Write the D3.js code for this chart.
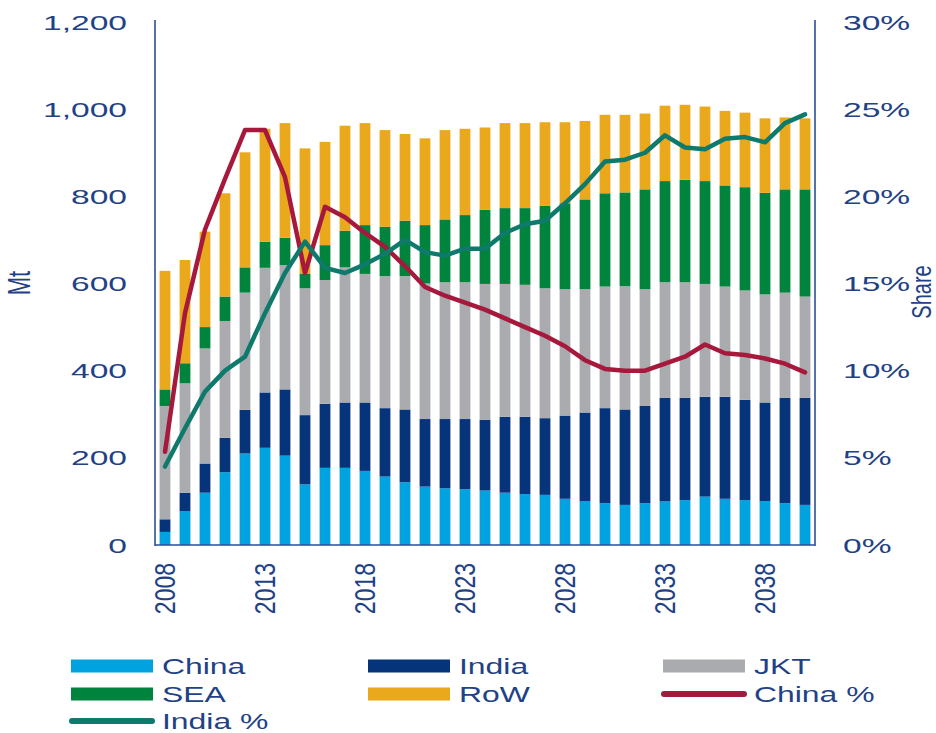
<!DOCTYPE html>
<html><head><meta charset="utf-8">
<script src="https://cdn.jsdelivr.net/npm/d3@7"></script>
<style>body{margin:0;background:#fff}svg{display:block}</style>
</head><body>
<svg id="c" width="936" height="733"></svg>
<script>
const years = [2008,2009,2010,2011,2012,2013,2014,2015,2016,2017,2018,2019,2020,2021,2022,2023,2024,2025,2026,2027,2028,2029,2030,2031,2032,2033,2034,2035,2036,2037,2038,2039,2040];
const china = [30,78,120,167,210,223,205,139,177,177,170,157,144,134,130,128,125,120,117,115,106,101,96,92,96,100,103,111,106,103,101,96,92];
const india = [29,42,67,79,100,127,152,159,147,150,157,157,167,155,159,161,162,174,177,176,191,203,218,219,223,238,235,229,234,230,226,242,246];
const jkt = [260,251,264,268,269,286,285,291,284,310,295,303,306,311,314,314,312,305,303,298,290,283,279,283,268,265,265,259,253,251,248,241,232];
const sea = [38,46,49,56,58,60,63,34,80,84,112,113,127,134,144,154,170,174,176,189,197,206,214,215,229,232,235,236,232,237,233,237,246];
const row = [272,237,219,237,264,259,263,287,237,241,234,222,199,199,205,198,189,195,195,192,186,180,180,178,174,173,172,171,171,171,171,165,163];
const chinaPct = [5.35,13.3,18.1,21.0,23.8,23.8,21.1,15.6,19.4,18.8,17.9,17.1,16.0,14.8,14.3,13.9,13.5,13.0,12.5,12.0,11.4,10.6,10.1,10.0,10.0,10.4,10.8,11.5,11.0,10.9,10.7,10.4,9.9];
const indiaPct = [4.5,6.7,8.8,10.0,10.8,13.3,15.6,17.4,15.9,15.6,16.1,16.7,17.5,16.8,16.6,17.0,17.0,17.9,18.4,18.6,19.6,20.7,22.0,22.1,22.5,23.5,22.8,22.7,23.3,23.4,23.1,24.2,24.7];
const xTickYears = [2008,2013,2018,2023,2028,2033,2038];
const yTicks = [0,200,400,600,800,1000,1200];
const pctTicks = [0,5,10,15,20,25,30];
const seriesKeys = ["China","India","JKT","SEA","RoW"];
const seriesColors = ["#00a3e0","#06347a","#a9abae","#00843d","#eaa81c"];
const lineKeys = ["China %","India %"];
const lineColors = ["#a6193c","#0e7a6c"];

const textColor = "#1f4286";
const axisColor = "#2b4f96";
const font = "'Liberation Sans', Arial, sans-serif";

const svg = d3.select("#c");
const L = 155, R = 815, T = 22, B = 545;

const x = d3.scaleBand().domain(years).range([L, R]).paddingInner(0.46).paddingOuter(0.23);
const y = d3.scaleLinear().domain([0,1200]).range([B, T]);
const y2 = d3.scaleLinear().domain([0,30]).range([B, T]);

const table = years.map((yr,i)=>({year:yr, China:china[i], India:india[i], JKT:jkt[i], SEA:sea[i], RoW:row[i]}));
const stack = d3.stack().keys(seriesKeys)(table);

svg.append("g").selectAll("g").data(stack).join("g")
  .attr("fill",(d,i)=>seriesColors[i])
  .selectAll("rect").data(d=>d).join("rect")
  .attr("x", d=>x(d.data.year))
  .attr("width", x.bandwidth())
  .attr("y", d=>y(d[1]))
  .attr("height", d=>y(d[0])-y(d[1]));

const cx = d => x(d) + x.bandwidth()/2;
const lineGen = arr => d3.line().x((d,i)=>cx(years[i])).y(d=>y2(d))(arr);
[chinaPct, indiaPct].forEach((arr,k)=>{
  svg.append("path").attr("d", lineGen(arr)).attr("fill","none")
    .attr("stroke", lineColors[k]).attr("stroke-width",4.5)
    .attr("stroke-linejoin","round").attr("stroke-linecap","round");
});

// axes
const sx = 1.6;
const gL = svg.append("g").attr("transform",`translate(${L},0)`)
  .call(d3.axisLeft(y).tickValues(yTicks).tickSize(0).tickFormat(d3.format(",")));
gL.select(".domain").attr("stroke",axisColor).attr("stroke-width",1.6).attr("d",`M0,${T-2}V${B+1}`);
gL.selectAll("text").attr("x",null).attr("dy",null)
  .attr("font-family",font).attr("font-size",21).attr("fill",textColor)
  .attr("text-anchor","end").attr("dominant-baseline","central")
  .attr("transform",`translate(-28,0) scale(${sx},1)`);

const gR = svg.append("g").attr("transform",`translate(${R},0)`)
  .call(d3.axisRight(y2).tickValues(pctTicks).tickSize(0).tickFormat(d=>d+"%"));
gR.select(".domain").attr("stroke",axisColor).attr("stroke-width",1.6).attr("d",`M0,${T-2}V${B+1}`);
gR.selectAll("text").attr("x",null).attr("dy",null)
  .attr("font-family",font).attr("font-size",21).attr("fill",textColor)
  .attr("text-anchor","start").attr("dominant-baseline","central")
  .attr("transform",`translate(28,0) scale(${sx},1)`);

const gB = svg.append("g").attr("transform",`translate(0,${B})`)
  .call(d3.axisBottom(x).tickValues(xTickYears).tickSize(0));
gB.select(".domain").attr("stroke",axisColor).attr("stroke-width",1.6).attr("d",`M${L},0H${R}`);
gB.selectAll(".tick text").attr("y",null).attr("dy",null)
  .attr("font-family",font).attr("font-size",23).attr("fill",textColor)
  .attr("text-anchor","end").attr("dominant-baseline","central")
  .attr("transform",`translate(0,18) scale(1.3,1) rotate(-90)`);

// axis titles
svg.append("text").text("Mt").attr("font-family",font).attr("font-size",22).attr("fill",textColor)
  .attr("text-anchor","middle").attr("dominant-baseline","central")
  .attr("transform","translate(20,283) scale(1.4,1) rotate(-90)");
svg.append("text").text("Share").attr("font-family",font).attr("font-size",20).attr("fill",textColor)
  .attr("text-anchor","middle").attr("dominant-baseline","central")
  .attr("transform","translate(921,292) scale(1.35,1) rotate(-90)");

// legend
const items = seriesKeys.map((k,i)=>({name:k,color:seriesColors[i],type:"rect"}))
  .concat(lineKeys.map((k,i)=>({name:k,color:lineColors[i],type:"line"})));
const colX = [71,368,663];
const rowY = [666,694,721];
const lg = svg.append("g");
items.forEach((it,i)=>{
  const c = i%3, r = Math.floor(i/3);
  const gx = colX[c], gy = rowY[r];
  if(it.type==="rect"){
    lg.append("rect").attr("x",gx).attr("y",gy-6.5).attr("width",82).attr("height",13).attr("fill",it.color);
  } else {
    lg.append("line").attr("x1",gx+1).attr("x2",gx+81).attr("y1",gy).attr("y2",gy)
      .attr("stroke",it.color).attr("stroke-width",6).attr("stroke-linecap","round");
  }
  lg.append("text").text(it.name).attr("font-family",font).attr("font-size",22).attr("fill",textColor)
    .attr("dominant-baseline","central")
    .attr("transform",`translate(${gx+91},${gy}) scale(1.45,1)`);
});
</script>
</body></html>
